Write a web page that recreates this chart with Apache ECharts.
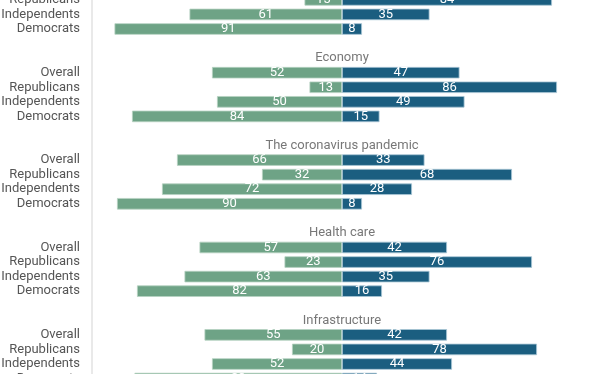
<!DOCTYPE html>
<html>
<head>
<meta charset="utf-8">
<script src="https://cdn.jsdelivr.net/npm/echarts@6/dist/echarts.min.js"></script>
<style>
html,body{margin:0;padding:0;background:#fff;}
#chart{width:612px;height:374px;}
</style>
</head>
<body>
<div id="chart"></div>
<script>
// Row labels within each group
const groupRows = ['Overall', 'Republicans', 'Independents', 'Democrats'];
// First (partially visible) group: only the last three rows are in view
const firstGroupRows = ['Republicans', 'Independents', 'Democrats'];
const firstGroupGreen = [15, 61, 91];
const firstGroupBlue = [84, 35, 8];

const topics = ['Economy', 'The coronavirus pandemic', 'Health care', 'Infrastructure'];
const economyGreen = [52, 13, 50, 84];
const economyBlue = [47, 86, 49, 15];
const pandemicGreen = [66, 32, 72, 90];
const pandemicBlue = [33, 68, 28, 8];
const healthGreen = [57, 23, 63, 82];
const healthBlue = [42, 76, 35, 16];
const infraGreen = [55, 20, 52, 83];
const infraBlue = [42, 78, 44, 14];

const topicGreen = [economyGreen, pandemicGreen, healthGreen, infraGreen];
const topicBlue = [economyBlue, pandemicBlue, healthBlue, infraBlue];

// Build category rows (top to bottom)
const categories = [];   // unique keys
const rowLabels = [];    // displayed labels
const greenData = [];
const blueData = [];
const titleData = [];

function addRow(label, g, b) {
  const idx = categories.length;
  categories.push('r' + idx);
  rowLabels.push(label);
  greenData.push(g == null ? null : -g);
  blueData.push(b == null ? null : b);
  return idx;
}

firstGroupRows.forEach((r, i) => addRow(r, firstGroupGreen[i], firstGroupBlue[i]));
topics.forEach((t, ti) => {
  addRow('', null, null); // spacer
  const idx = addRow('', null, null); // title row
  titleData.push({ value: [0, categories[idx]], name: t });
  groupRows.forEach((r, i) => addRow(r, topicGreen[ti][i], topicBlue[ti][i]));
});

const slot = 14.565;
const firstCenter = -0.13;
const gridTop = firstCenter - slot / 2;
const gridHeight = slot * categories.length;

const chart = echarts.init(document.getElementById('chart'), null, { renderer: 'canvas' });

const labelStyle = {
  show: true,
  position: 'inside',
  color: '#ffffff',
  fontSize: 13,
  fontFamily: 'Roboto',
  formatter: p => Math.abs(p.value)
};

chart.setOption({
  animation: false,
  backgroundColor: '#ffffff',
  textStyle: { fontFamily: 'Roboto' },
  grid: {
    left: 92, right: 20, top: gridTop, height: gridHeight,
    containLabel: false,
    outerBoundsMode: 'none'
  },
  xAxis: {
    type: 'value',
    min: -100,
    max: 100,
    show: false
  },
  yAxis: {
    type: 'category',
    inverse: true,
    data: categories,
    axisTick: { show: false },
    axisLine: { show: true, onZero: false, lineStyle: { color: '#e2e2e2', width: 1.5 } },
    splitLine: { show: false },
    axisLabel: {
      interval: 0,
      margin: 12,
      color: '#555555',
      fontSize: 13,
      fontFamily: 'Roboto',
      formatter: (v, i) => rowLabels[i]
    }
  },
  series: [
    {
      name: 'green',
      type: 'bar',
      stack: 'total',
      barWidth: 11.5,
      data: greenData,
      itemStyle: { color: '#6ea386', borderColor: '#b6d2c2', borderWidth: 0.8 },
      label: labelStyle
    },
    {
      name: 'blue',
      type: 'bar',
      stack: 'total',
      barWidth: 11.5,
      data: blueData,
      itemStyle: { color: '#1b5e80', borderColor: '#a9c6d6', borderWidth: 0.8 },
      label: labelStyle
    },
    {
      name: 'titles',
      type: 'scatter',
      symbolSize: 1,
      itemStyle: { color: 'rgba(0,0,0,0)' },
      data: titleData,
      silent: true,
      label: {
        show: true,
        position: 'inside',
        color: '#555555',
        fontSize: 13,
        fontFamily: 'Roboto',
        formatter: p => p.name
      }
    }
  ]
});
</script>
</body>
</html>
